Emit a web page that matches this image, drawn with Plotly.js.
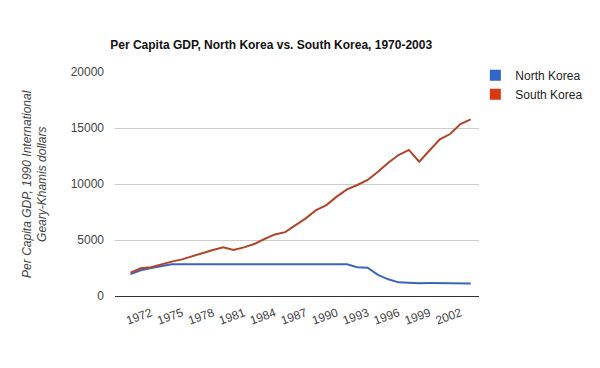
<!DOCTYPE html>
<html>
<head>
<meta charset="utf-8">
<script src="https://cdn.plot.ly/plotly-3.0.1.min.js"></script>
<style>html,body{margin:0;padding:0;background:#fff;}#chart{width:600px;height:368px;}</style>
</head>
<body>
<div id="chart"></div>
<script>
var years = [1970,1971,1972,1973,1974,1975,1976,1977,1978,1979,1980,1981,1982,1983,1984,1985,1986,1987,1988,1989,1990,1991,1992,1993,1994,1995,1996,1997,1998,1999,2000,2001,2002,2003];
var northKorea = [1950,2300,2500,2700,2841,2841,2841,2841,2841,2841,2841,2841,2841,2841,2841,2841,2841,2841,2841,2841,2841,2841,2560,2520,1880,1490,1220,1150,1140,1150,1150,1160,1140,1120];
var southKorea = [2080,2470,2560,2830,3070,3270,3570,3870,4110,4340,4110,4340,4640,5090,5500,5700,6280,6930,7680,8120,8870,9520,9910,10360,11100,11900,12590,13040,11990,13040,13990,14460,15360,15770];
var tickYears = [1972,1975,1978,1981,1984,1987,1990,1993,1996,1999,2002];
var yTicks = [0,5000,10000,15000,20000];
var seriesNames = ["North Korea","South Korea"];

var traces = [
  {x: years, y: northKorea, type: 'scatter', mode: 'lines', line: {color: '#3c64bd', width: 2}, showlegend: false, hoverinfo: 'skip'},
  {x: years, y: southKorea, type: 'scatter', mode: 'lines', line: {color: '#b04428', width: 2}, showlegend: false, hoverinfo: 'skip'},
  {x: [null], y: [null], type: 'scatter', mode: 'markers', name: seriesNames[0], marker: {symbol: 'square', size: 11, color: '#3366cc'}},
  {x: [null], y: [null], type: 'scatter', mode: 'markers', name: seriesNames[1], marker: {symbol: 'square', size: 11, color: '#dc3912'}}
];

var layout = {
  width: 600, height: 368,
  margin: {l: 115, r: 117, t: 72, b: 72},
  paper_bgcolor: '#ffffff', plot_bgcolor: '#ffffff',
  font: {family: 'Liberation Sans, Arial, sans-serif', size: 12, color: '#444'},
  title: {text: '<b>Per Capita GDP, North Korea vs. South Korea, 1970-2003</b>', font: {family: 'Liberation Sans Narrow, Liberation Sans, Arial, sans-serif', size: 12, color: '#111'}, xref: 'container', x: 0.452, xanchor: 'center', yref: 'container', y: 0.878, yanchor: 'middle'},
  xaxis: {
    range: [1968.5, 2003.8],
    tickmode: 'array', tickvals: tickYears, ticktext: tickYears.map(String),
    tickangle: -20, showgrid: false, zeroline: false, showline: false, ticks: '',
    ticklabelstandoff: 7,
    tickfont: {size: 12, color: '#444'}, fixedrange: true
  },
  yaxis: {
    range: [0, 20000], tickmode: 'array', tickvals: yTicks, ticktext: yTicks.map(String),
    showgrid: true, gridcolor: '#cccccc', gridwidth: 1, zeroline: true, zerolinecolor: '#333', zerolinewidth: 1,
    showline: false, ticks: '', ticklabelstandoff: 10,
    tickfont: {size: 12, color: '#444'}, fixedrange: true
  },
  legend: {x: 0.99, xanchor: 'left', y: 1.05, yanchor: 'top', font: {size: 12, color: '#222'}, itemwidth: 30, bgcolor: 'rgba(0,0,0,0)'},
  annotations: [{
    xref: 'paper', yref: 'paper', x: (34 - 115) / 368, y: 0.5, xanchor: 'center', yanchor: 'middle',
    text: '<i>Per Capita GDP, 1990 International<br>Geary-Khamis dollars</i>', textangle: -90, showarrow: false,
    font: {size: 12, color: '#444'}
  }]
};

Plotly.newPlot('chart', traces, layout, {displayModeBar: false, staticPlot: true});
</script>
</body>
</html>
